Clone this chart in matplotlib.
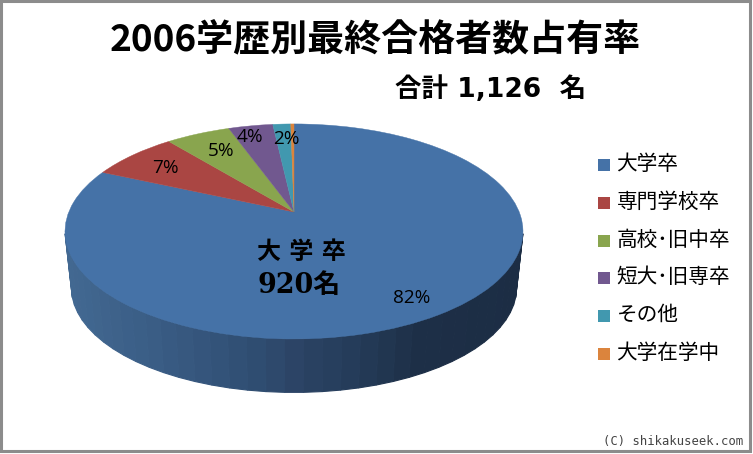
import numpy as np
import matplotlib
matplotlib.use("Agg")
import matplotlib.pyplot as plt
from matplotlib.patches import Rectangle
from matplotlib.transforms import Transform

CJK = "Noto Sans CJK JP"

title = "2006学歴別最終合格者数占有率"
total_text = "合計 1,126  名"
categories = ["大学卒", "専門学校卒", "高校･旧中卒", "短大･旧専卒", "その他", "大学在学中"]
counts = [920, 83, 61, 42, 17, 3]
colors = ["#4572A7", "#AA4643", "#89A54E", "#71588F", "#4198AF", "#DB843D"]
side_stops_x = [70, 150, 250, 300, 360, 420, 520]
side_stops_c = ["#426891", "#3a5d85", "#304e73", "#2b4364", "#243b58", "#1d2f47", "#1c2d44"]
percent_labels = ["82%", "7%", "5%", "4%", "2%"]
percent_xy = [(412, 298), (165, 168), (221, 151), (250, 137), (286, 139)]

CX, CY = 294.0, 212.0       # apex of the pie on screen
A, C, D = 104.0, 0.181, 225.2  # perspective of the tilted disc
DEPTH = 57.0
SHRINK = 0.972


class Tilt(Transform):
    """Projects the flat unit pie on to the tilted disc, in pixel coordinates."""
    input_dims = output_dims = 2

    def transform_non_affine(self, values):
        values = np.asarray(values, float)
        u, v = values[:, 0], values[:, 1]
        w = 1 + C * v
        return np.column_stack([CX + D * u / w, CY - A * v / w])


fig = plt.figure(figsize=(7.53, 4.54), dpi=100, facecolor="white")
ax = fig.add_axes([0, 0, 1, 1])
wedges, _ = ax.pie(counts, colors=colors, startangle=90, counterclock=False, radius=1,
                   wedgeprops=dict(linewidth=0.3))
ax.set_aspect("auto")
ax.set_xlim(0, 753)
ax.set_ylim(454, 0)
ax.axis("off")
tilt = Tilt()
for w in wedges:
    w.set_transform(tilt + ax.transData)
    w.set_edgecolor(w.get_facecolor())
    w.set_zorder(3)

# side wall: only the front of the disc, from its widest point on one side to the other
stops_rgb = np.array([matplotlib.colors.to_rgb(c) for c in side_stops_c])
angles = np.linspace(np.arcsin(C) + 0.02, np.pi - np.arcsin(C) - 0.02, 40)
pts = tilt.transform(np.column_stack([np.cos(angles), -np.sin(angles)]))
low = np.column_stack([CX + (pts[:, 0] - CX) * SHRINK, CY + (pts[:, 1] - CY) * SHRINK + DEPTH])
for i in range(len(angles) - 1):
    xm = (pts[i, 0] + pts[i + 1, 0]) / 2
    col = [np.interp(xm, side_stops_x, stops_rgb[:, k]) for k in range(3)]
    ax.fill([pts[i, 0], pts[i + 1, 0], low[i + 1, 0], low[i, 0]],
            [pts[i, 1], pts[i + 1, 1], low[i + 1, 1], low[i, 1]],
            facecolor=col, edgecolor=col, lw=0.8, zorder=2)

px = 0.72  # points per pixel at 100 dpi
ax.text(375, 41, title, ha="center", va="center", fontsize=37 * px, fontweight="bold", family=[CJK], zorder=5)
ax.text(491, 90, total_text, ha="center", va="center", fontsize=26.5 * px, fontweight="bold",
        family=["DejaVu Sans", CJK], zorder=5)
ax.text(301, 252, "大 学 卒", ha="center", va="center", fontsize=24 * px, fontweight="bold",
        family=["DejaVu Serif", CJK], zorder=5)
ax.text(299, 285, "920名", ha="center", va="center", fontsize=27 * px, fontweight="bold",
        family=["DejaVu Serif", CJK], zorder=5)
for s, (x, y) in zip(percent_labels, percent_xy):
    ax.text(x, y, s, ha="center", va="center", fontsize=19 * px, family=["Open Sans"], zorder=5)

# legend
for i, (name, col) in enumerate(zip(categories, colors)):
    y = 165 + i * 37.8
    ax.add_patch(Rectangle((598, y - 6), 12, 12, facecolor=col, edgecolor="none", zorder=5))
    ax.text(616.5, y - 1, name, ha="left", va="center", fontsize=20.7 * px, family=[CJK, "DejaVu Sans"], zorder=5)

ax.text(603, 441, "(C) shikakuseek.com", ha="left", va="center", fontsize=12.2 * px,
        family=["DejaVu Sans Mono"], color="#444444", zorder=5)

# frame
ax.add_patch(Rectangle((0.5, 0.5), 750, 450, fill=False, edgecolor="#8c8c8c", lw=2.2, zorder=6))

fig.savefig("out.png", dpi=100)
